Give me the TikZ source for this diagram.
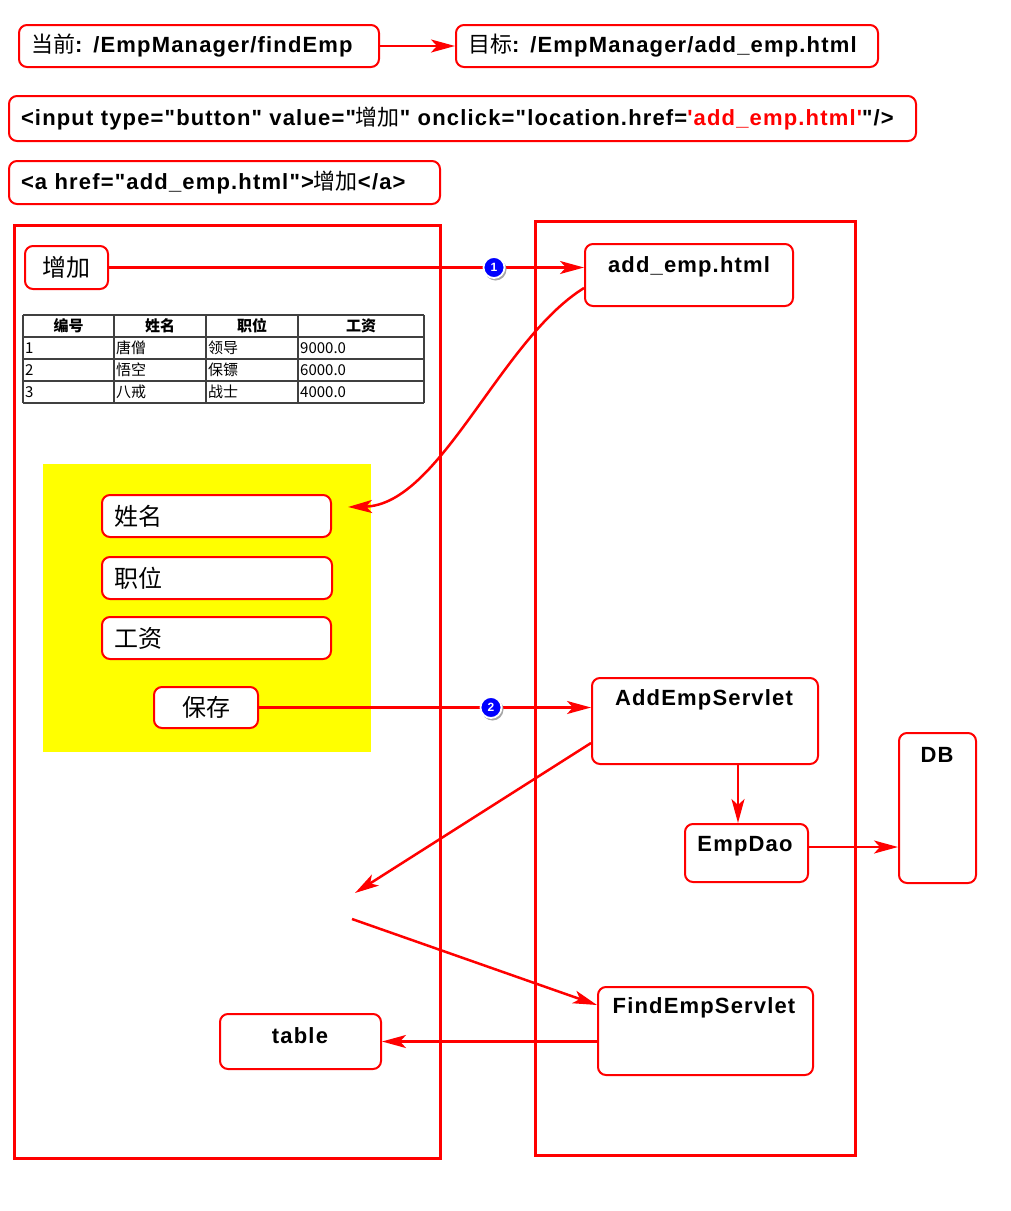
\documentclass[tikz,border=0pt]{standalone}
\usepackage{fontspec}
\usetikzlibrary{arrows.meta,calc}
\newfontfamily\lat{Liberation Sans}[LetterSpace=5.3]
\newfontfamily\cjk{Noto Sans CJK SC}
\definecolor{rd}{RGB}{255,0,0}
\definecolor{bl}{RGB}{0,0,255}
\definecolor{yl}{RGB}{255,255,0}
\definecolor{gr}{RGB}{64,64,64}
\tikzset{
  rbox/.style={draw=rd, line width=2pt, rounded corners=8pt, fill=white, inner sep=0pt},
  codebox/.style={rbox, align=left, inner xsep=12pt, font=\lat\bfseries\fontsize{22}{24}\selectfont},
  lbl/.style={inner sep=0pt, font=\lat\bfseries\fontsize{22}{24}\selectfont},
  cjkbox/.style={rbox, font=\cjk\fontsize{24}{26}\selectfont},
  frame/.style={draw=rd, line width=3pt},
  conn/.style={draw=rd, line width=2.5pt, -{Stealth[length=24pt,width=13pt,inset=6pt]}},
  badge/.style={circle, fill=bl, draw=white, line width=1.8pt, minimum size=21pt, inner sep=0pt, text=white, font=\lat\bfseries\fontsize{12}{12}\selectfont},
  shadow/.style={circle, fill=black!35, minimum size=22pt, inner sep=0pt},
  tcell/.style={inner sep=0pt, font=\cjk\fontsize{15}{16}\selectfont},
  thead/.style={inner sep=0pt, font=\cjk\bfseries\fontsize{15}{16}\selectfont},
}
\begin{document}
\begin{tikzpicture}[x=1pt,y=-1pt]
\useasboundingbox (0,0) rectangle (1011,1211);
% top boxes
\node[codebox, minimum width=360, minimum height=42, text width=336] (cur) at (199,46) {{\cjk\mdseries 当前}: /EmpManager/findEmp};
\node[codebox, minimum width=422, minimum height=42, text width=398] (tgt) at (667,46) {{\cjk\mdseries 目标}: /EmpManager/add\_emp.html};
\draw[conn] (cur.east) -- (cur.east -| tgt.west);
\node[codebox, minimum width=907, minimum height=45, text width=883] (inp) at (462.5,118.5) {<input type="button" value="{\cjk\mdseries 增加}" onclick="location.href={\color{rd}'add\_emp.html'}"/>};
\node[codebox, minimum width=431, minimum height=43, text width=407] (ahr) at (224.5,182.5) {<a href="add\_emp.html">{\cjk\mdseries 增加}</a>};
% frames
\draw[frame] (14,225) rectangle (440,1158);
\draw[frame] (535,221) rectangle (855,1155);
% left content
\node[cjkbox, minimum width=83, minimum height=43] (zj) at (66.5,267.5) {增加};
% table
\foreach \yy in {315,337,359,381,403} \draw[gr, line width=1.5pt] (23,\yy) -- (424,\yy);
\foreach \xx in {23,114,206,298,424} \draw[gr, line width=1.5pt] (\xx,315) -- (\xx,403);
\node[thead] (h1) at (68.5,326) {编号};
\node[thead] (h2) at (160,326) {姓名};
\node[thead] (h3) at (252,326) {职位};
\node[thead] (h4) at (361,326) {工资};
\node[tcell, anchor=west] (c11) at (25,348) {1};
\node[tcell, anchor=west] (c12) at (116,348) {唐僧};
\node[tcell, anchor=west] (c13) at (208,348) {领导};
\node[tcell, anchor=west] (c14) at (300,348) {9000.0};
\node[tcell, anchor=west] (c21) at (25,370) {2};
\node[tcell, anchor=west] (c22) at (116,370) {悟空};
\node[tcell, anchor=west] (c23) at (208,370) {保镖};
\node[tcell, anchor=west] (c24) at (300,370) {6000.0};
\node[tcell, anchor=west] (c31) at (25,392) {3};
\node[tcell, anchor=west] (c32) at (116,392) {八戒};
\node[tcell, anchor=west] (c33) at (208,392) {战士};
\node[tcell, anchor=west] (c34) at (300,392) {4000.0};
% yellow form
\fill[yl] (43,464) rectangle (371,752);
\node[cjkbox, minimum width=229, minimum height=42, text width=205, align=left, inner xsep=12pt] (xm) at (216.5,516) {姓名};
\node[cjkbox, minimum width=230, minimum height=42, text width=206, align=left, inner xsep=12pt] (zw) at (217,578) {职位};
\node[cjkbox, minimum width=229, minimum height=42, text width=205, align=left, inner xsep=12pt] (gz) at (216.5,638) {工资};
\node[cjkbox, minimum width=104, minimum height=41] (bc) at (206,707.5) {保存};
\node[rbox, minimum width=161, minimum height=55] (tb) at (300.5,1041.5) {};
\node[lbl] (tbt) at (300,1036) {table};
% right content
\node[rbox, minimum width=208, minimum height=62] (ae) at (689,275) {};
\node[lbl] (aet) at (689,267) {add\_emp.html};
\node[rbox, minimum width=226, minimum height=86] (as) at (705,721) {};
\node[lbl] (ast) at (704,700) {AddEmpServlet};
\node[rbox, minimum width=123, minimum height=58] (ed) at (746.5,853) {};
\node[lbl] (edt) at (745,846) {EmpDao};
\node[rbox, minimum width=77, minimum height=150] (db) at (937.5,808) {};
\node[lbl] (dbt) at (937,755) {DB};
\node[rbox, minimum width=215, minimum height=88] (fs) at (705.5,1031) {};
\node[lbl] (fst) at (704,1008) {FindEmpServlet};
\coordinate (c1) at (355,893);
\coordinate (c2) at (352,919);
% connectors
\draw[conn] (zj.east) -- (zj.east -| ae.west);
\node[shadow] (s1) at (495.5,269.5) {};
\node[badge] (b1) at (494,267.5) {1};
\draw[conn] ([yshift=-13pt]ae.west) .. controls (500,340) and (440,505) .. ([xshift=16pt,yshift=9pt]xm.east);
\draw[conn] (bc.east) -- (bc.east -| as.west);
\node[shadow] (s2) at (492.5,709.5) {};
\node[badge] (b2) at (491,707.5) {2};
\draw[conn] ([xshift=33pt]as.south) -- ([xshift=33pt]as.south |- ed.north);
\draw[conn] ([yshift=6pt]ed.east) -- ([yshift=6pt]ed.east -| db.west);
\draw[conn] ([yshift=-22pt]as.west) -- (c1);
\draw[conn] (c2) -- ([yshift=26pt]fs.west);
\draw[conn] (fs.west |- tb.east) -- (tb.east);
\end{tikzpicture}
\end{document}
